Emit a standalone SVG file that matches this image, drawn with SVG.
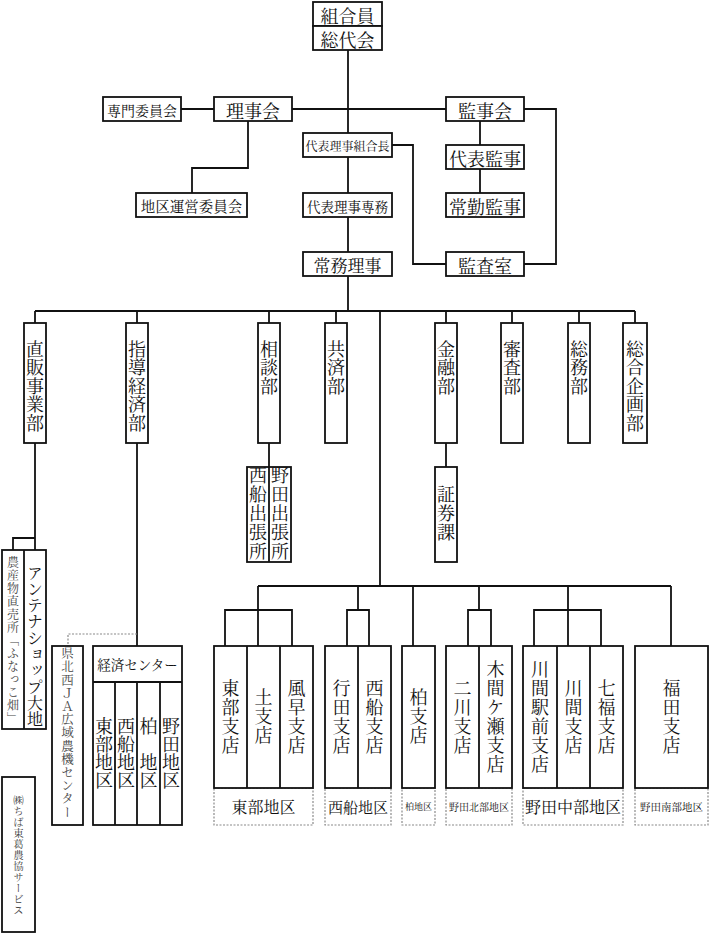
<svg xmlns="http://www.w3.org/2000/svg" width="710" height="934" viewBox="0 0 710 934">
<style>
text{font-family:"Noto Serif CJK JP","Noto Sans CJK JP",sans-serif;fill:#111}
.h{text-anchor:middle;dominant-baseline:central}
.v{writing-mode:vertical-rl;text-anchor:middle}
.vs{writing-mode:vertical-rl;text-anchor:start}
.b{fill:#fff;stroke:#111;stroke-width:1.8}
.d{fill:#fff;stroke:#8a8a8a;stroke-width:1.2;stroke-dasharray:2 1.5}
.c path,.c line{fill:none;stroke:#111;stroke-width:1.8}
.c .dash{stroke:#8a8a8a;stroke-width:1.2;stroke-dasharray:2 1.5}
</style>
<rect width="710" height="934" fill="#fff"/>
<g class="c" id="connectors">
<path d="M348 50V311"/>
<path d="M181 109H214M292 109H446"/>
<path d="M248 121V168H192V193"/>
<path d="M480 121V145M480 169V193"/>
<path d="M392 145H413V264H446"/>
<path d="M524 109H556V264H524"/>
<path d="M35 311H635"/>
<path d="M35 311V323M137 311V323M269 311V323M336 311V323M446 311V323M512 311V323M579 311V323M635 311V323"/>
<path d="M380 311V586"/>
<path d="M269 443V467M446 443V467"/>
<path d="M35 443V538H13V550M35 538V550"/>
<path d="M137 443V646"/>
<path class="dash" d="M137 634H68V646"/>
<path d="M258 586H671"/>
<path d="M258 586V610M225 646V610H292V646M258 610V646"/>
<path d="M358 586V610M347 646V610H369V646"/>
<path d="M413 586V646"/>
<path d="M479 586V610M468 646V610H491V646"/>
<path d="M568 586V610M534 646V610H601V646M568 610V646"/>
<path d="M671 586V646"/>
</g>
<g id="kumiaiin"><rect class="b" x="313" y="2" width="69" height="24"/><text class="h" x="347.5" y="14.5" font-size="18">組合員</text></g>
<g id="soudaikai"><rect class="b" x="313" y="26" width="69" height="24"/><text class="h" x="347.5" y="38.5" font-size="18">総代会</text></g>
<g id="senmon"><rect class="b" x="103" y="97" width="78" height="24"/><text class="h" x="142" y="109.5" font-size="14">専門委員会</text></g>
<g id="rijikai"><rect class="b" x="214" y="97" width="78" height="24"/><text class="h" x="253" y="109.5" font-size="18">理事会</text></g>
<g id="kanjikai"><rect class="b" x="446" y="97" width="78" height="24"/><text class="h" x="485" y="109.5" font-size="18">監事会</text></g>
<g id="kumiaicho"><rect class="b" x="303" y="133" width="89" height="24"/><text class="h" x="347.5" y="145.5" font-size="12">代表理事組合長</text></g>
<g id="daihyokanji"><rect class="b" x="446" y="145" width="78" height="24"/><text class="h" x="485" y="157.5" font-size="18">代表監事</text></g>
<g id="chiku"><rect class="b" x="136" y="193" width="111" height="24"/><text class="h" x="191.5" y="205.5" font-size="14.5">地区運営委員会</text></g>
<g id="senmu"><rect class="b" x="303" y="193" width="89" height="24"/><text class="h" x="347.5" y="205.5" font-size="13.5">代表理事専務</text></g>
<g id="jokin"><rect class="b" x="446" y="193" width="78" height="24"/><text class="h" x="485" y="205.5" font-size="18">常勤監事</text></g>
<g id="jomu"><rect class="b" x="303" y="252" width="89" height="24"/><text class="h" x="347.5" y="264.5" font-size="17">常務理事</text></g>
<g id="kansashitsu"><rect class="b" x="446" y="252" width="78" height="24"/><text class="h" x="485" y="264.5" font-size="18">監査室</text></g>

<g id="chokuhan"><rect class="b" x="24" y="323" width="22" height="120"/><text class="vs" x="35" y="340" font-size="18" letter-spacing="0.5">直販事業部</text></g>
<g id="shido"><rect class="b" x="126" y="323" width="22" height="120"/><text class="vs" x="137" y="340" font-size="18" letter-spacing="0.5">指導経済部</text></g>
<g id="sodan"><rect class="b" x="258" y="323" width="22" height="120"/><text class="vs" x="269" y="340" font-size="18" letter-spacing="0.5">相談部</text></g>
<g id="kyosai"><rect class="b" x="325" y="323" width="22" height="120"/><text class="vs" x="336" y="340" font-size="18" letter-spacing="0.5">共済部</text></g>
<g id="kinyu"><rect class="b" x="435" y="323" width="22" height="120"/><text class="vs" x="446" y="340" font-size="18" letter-spacing="0.5">金融部</text></g>
<g id="shinsa"><rect class="b" x="501" y="323" width="22" height="120"/><text class="vs" x="512" y="340" font-size="18" letter-spacing="0.5">審査部</text></g>
<g id="somu"><rect class="b" x="568" y="323" width="22" height="120"/><text class="vs" x="579" y="340" font-size="18" letter-spacing="0.5">総務部</text></g>
<g id="kikaku"><rect class="b" x="623" y="323" width="24" height="120"/><text class="vs" x="635" y="340" font-size="18" letter-spacing="0.5">総合企画部</text></g>

<g id="shutchojo"><rect class="b" x="247" y="467" width="44" height="95"/><line x1="269" y1="467" x2="269" y2="562" stroke="#111" stroke-width="1.8"/><text class="v" x="258" y="514" font-size="18" letter-spacing="1">西船出張所</text><text class="v" x="280" y="514" font-size="18" letter-spacing="1">野田出張所</text></g>
<g id="shoken"><rect class="b" x="435" y="467" width="22" height="95"/><text class="v" x="446" y="514" font-size="18" letter-spacing="1">証券課</text></g>

<g id="chokubai"><rect class="b" x="2" y="550" width="44" height="179"/><line x1="24" y1="550" x2="24" y2="729" stroke="#111" stroke-width="1.8"/><text class="v" x="13" y="641" font-size="12" letter-spacing="1" style="fill:#444">農産物直売所「ふなっこ畑」</text><text class="v" x="35" y="646" font-size="16" letter-spacing="0.3">アンテナショップ大地</text></g>
<g id="noki"><rect class="b" x="52" y="646" width="31" height="179"/><text class="v" x="67.5" y="733" font-size="12.5" letter-spacing="0.7" style="fill:#444">県北西ＪＡ広域農機センター</text></g>
<g id="keizai"><rect class="b" x="93" y="646" width="89" height="179"/><path d="M93 682H182M115 682V825M137 682V825M160 682V825" fill="none" stroke="#111" stroke-width="1.8"/><text class="h" x="137.5" y="664" font-size="13.5">経済センター</text><text class="v" x="104" y="753" font-size="18">東部地区</text><text class="v" x="126" y="753" font-size="18">西船地区</text><text class="v" x="148.5" y="753" font-size="18">柏　地区</text><text class="v" x="171" y="753" font-size="18">野田地区</text></g>
<g id="service"><rect class="b" x="2" y="777" width="33" height="155"/><text class="v" x="18.5" y="855" font-size="10.5" letter-spacing="0.5" style="fill:#444">㈱ちば東葛農協サービス</text></g>

<g id="tobu"><rect class="d" x="214" y="788" width="99" height="37"/><rect class="b" x="214" y="646" width="99" height="142"/><path d="M247 646V788M280 646V788" stroke="#111" stroke-width="1.8"/><text class="v" x="230.5" y="717" font-size="18" letter-spacing="1">東部支店</text><text class="v" x="263.5" y="717" font-size="18" letter-spacing="1">土支店</text><text class="v" x="296.5" y="717" font-size="18" letter-spacing="1">風早支店</text><text class="h" x="263.5" y="806.5" font-size="16">東部地区</text></g>
<g id="nishifuna"><rect class="d" x="325" y="788" width="66" height="37"/><rect class="b" x="325" y="646" width="66" height="142"/><path d="M358 646V788" stroke="#111" stroke-width="1.8"/><text class="v" x="341.5" y="717" font-size="18" letter-spacing="1">行田支店</text><text class="v" x="374.5" y="717" font-size="18" letter-spacing="1">西船支店</text><text class="h" x="358" y="806.5" font-size="15">西船地区</text></g>
<g id="kashiwa"><rect class="d" x="402" y="788" width="33" height="37"/><rect class="b" x="402" y="646" width="33" height="142"/><text class="v" x="418.5" y="717" font-size="18" letter-spacing="1">柏支店</text><text class="h" x="418.5" y="806.5" font-size="9">柏地区</text></g>
<g id="hokubu"><rect class="d" x="446" y="788" width="66" height="37"/><rect class="b" x="446" y="646" width="66" height="142"/><path d="M479 646V788" stroke="#111" stroke-width="1.8"/><text class="v" x="462.5" y="717" font-size="18" letter-spacing="1">二川支店</text><text class="v" x="495.5" y="717" font-size="18" letter-spacing="1">木間ケ瀬支店</text><text class="h" x="479" y="806.5" font-size="10">野田北部地区</text></g>
<g id="chubu"><rect class="d" x="523" y="788" width="100" height="37"/><rect class="b" x="523" y="646" width="100" height="142"/><path d="M557 646V788M590 646V788" stroke="#111" stroke-width="1.8"/><text class="v" x="540" y="717" font-size="18" letter-spacing="1">川間駅前支店</text><text class="v" x="573.5" y="717" font-size="18" letter-spacing="1">川間支店</text><text class="v" x="606.5" y="717" font-size="18" letter-spacing="1">七福支店</text><text class="h" x="573" y="806.5" font-size="16">野田中部地区</text></g>
<g id="nanbu"><rect class="d" x="635" y="788" width="73" height="37"/><rect class="b" x="635" y="646" width="73" height="142"/><text class="v" x="671.5" y="717" font-size="18" letter-spacing="1">福田支店</text><text class="h" x="671.5" y="806.5" font-size="10.5">野田南部地区</text></g>
</svg>
